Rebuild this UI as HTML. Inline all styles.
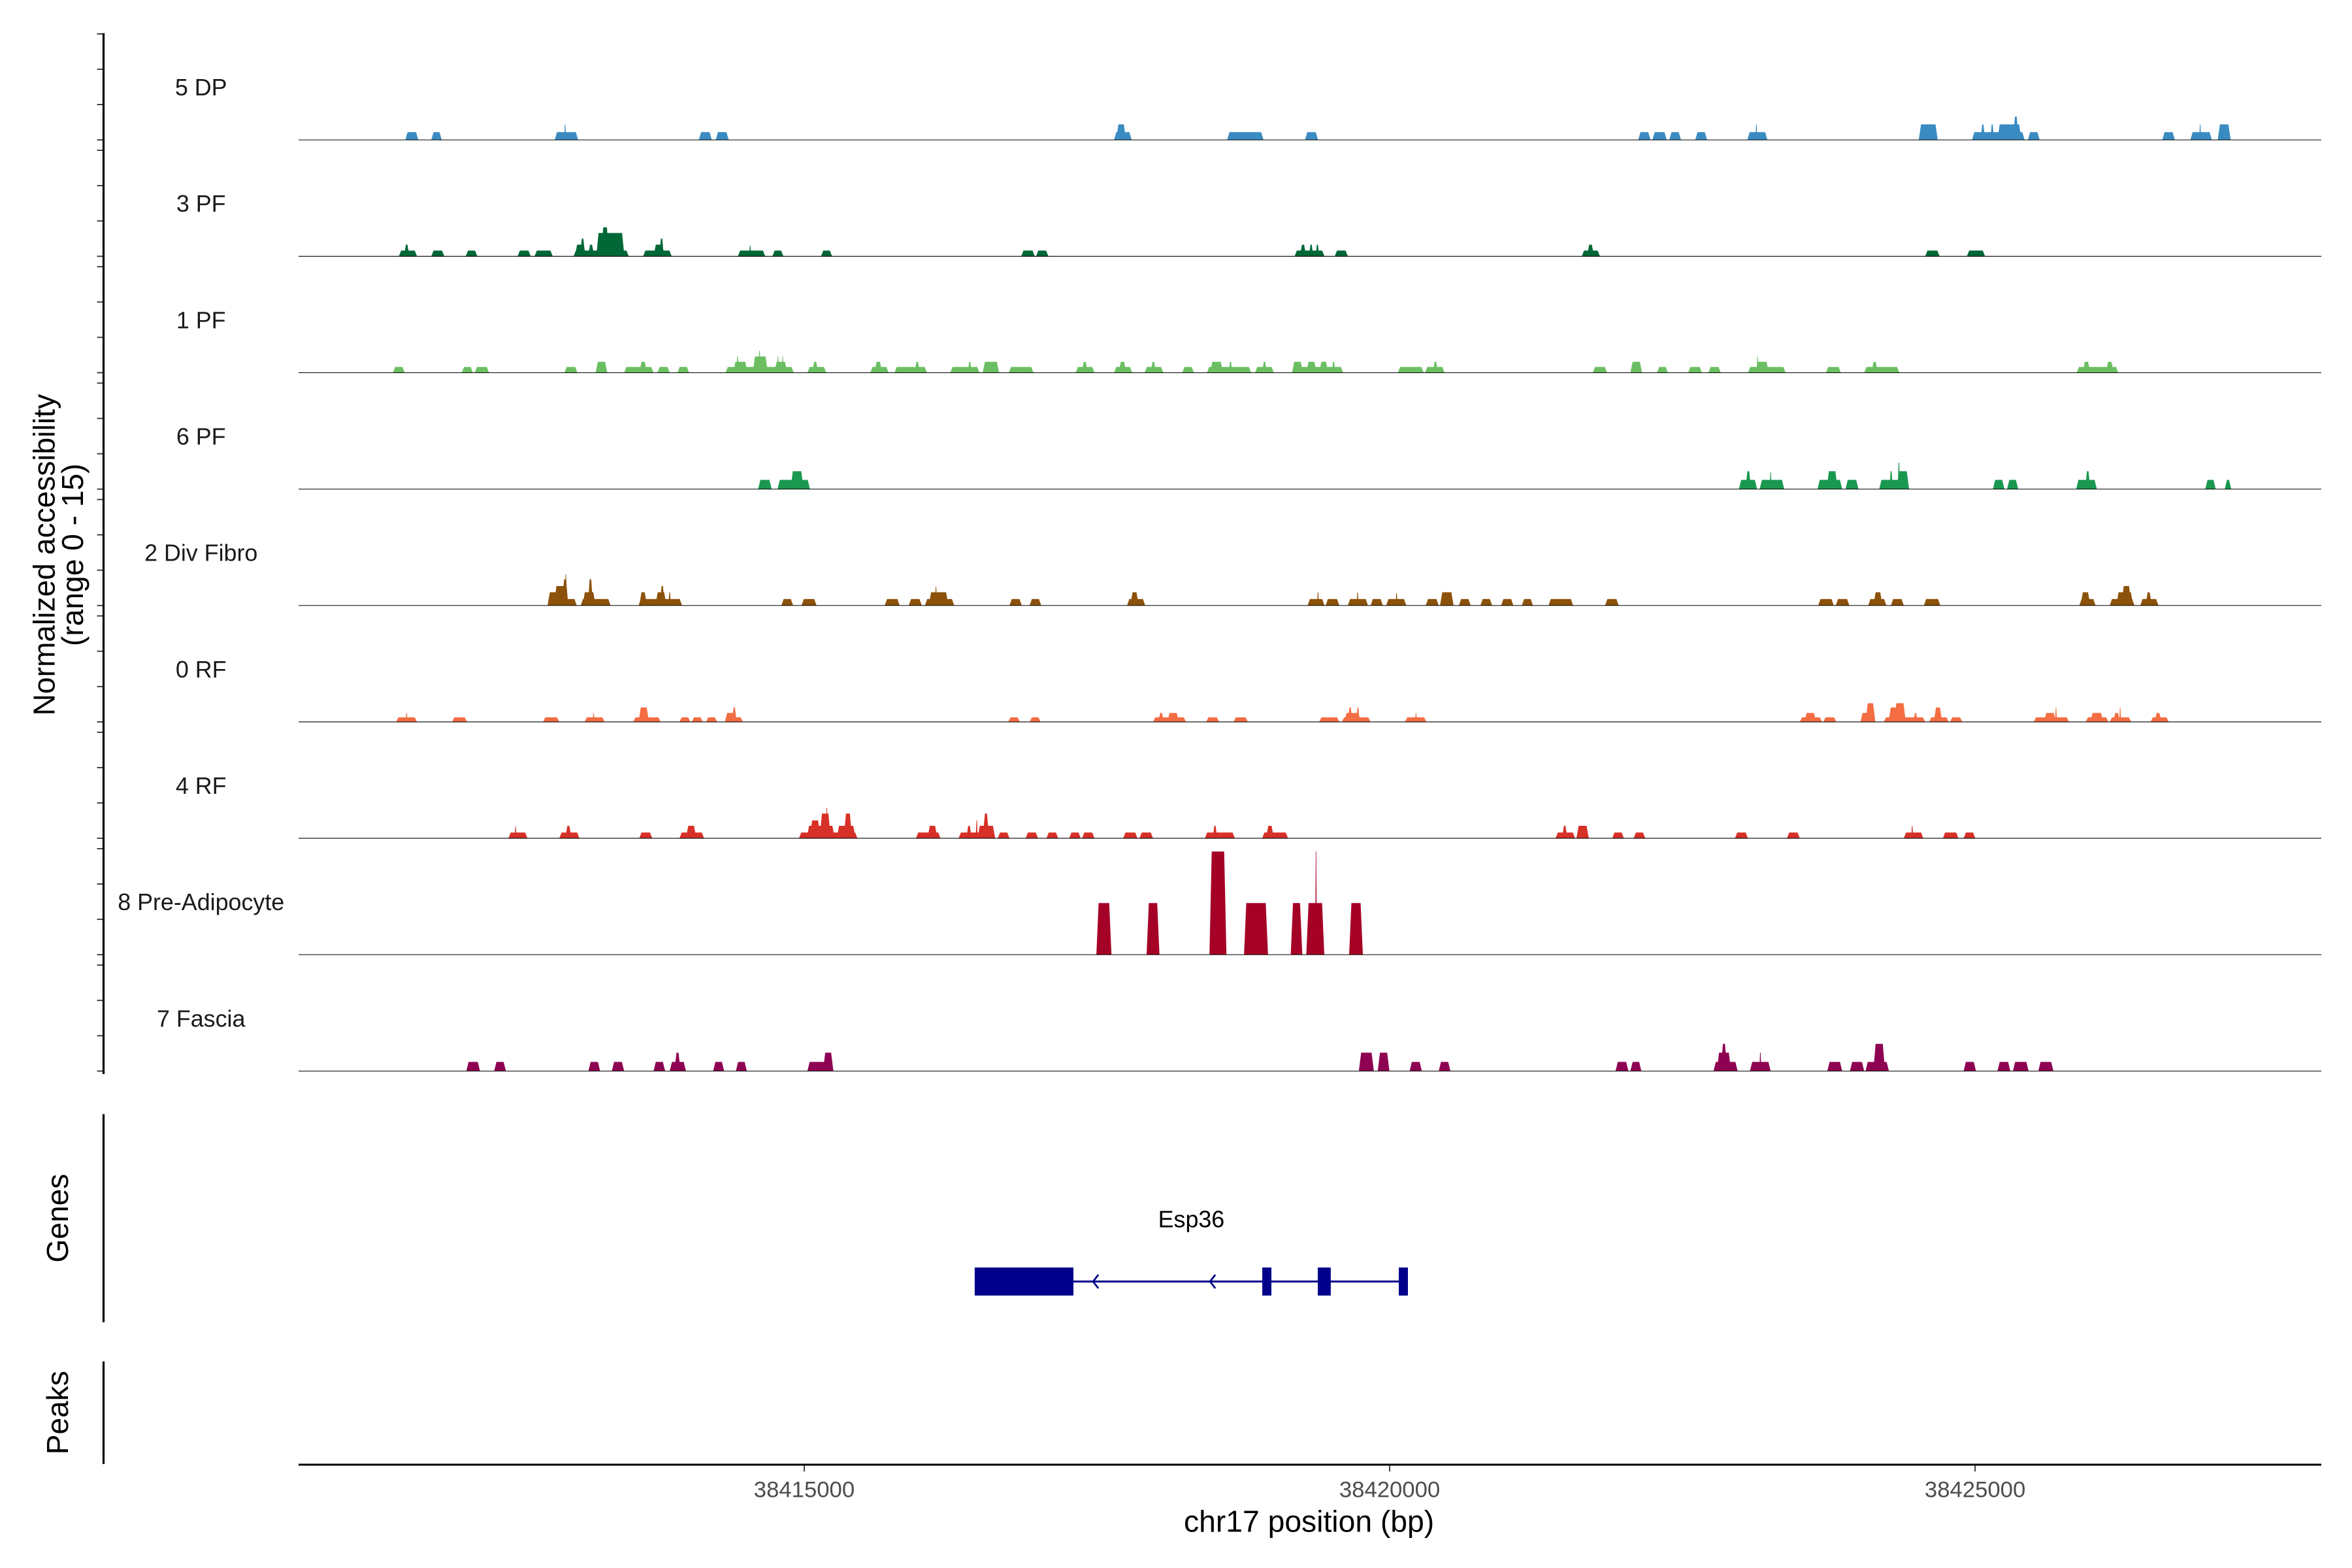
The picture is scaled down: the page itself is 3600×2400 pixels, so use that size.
<!DOCTYPE html>
<html><head><meta charset="utf-8"><style>
html,body{margin:0;padding:0;background:#fff;}
svg{display:block;}
text{font-family:"Liberation Sans",Arial,sans-serif;}
</style></head>
<body>
<svg id="chart" xmlns="http://www.w3.org/2000/svg" width="3600" height="2400" viewBox="0 0 1556 1040" preserveAspectRatio="none">
<g id="tracks"></g>
<g id="axes"></g>
<g id="genes"></g>
</svg>
<script>
const regionStart = 38410681;
const regionEnd = 38427957;
const yMax = 15;
const trackNames = ["5 DP","3 PF","1 PF","6 PF","2 Div Fibro","0 RF","4 RF","8 Pre-Adipocyte","7 Fascia"];
const trackColors = ["#3a8bc2","#006837","#6bbf62","#1a9850","#8c510a","#f46d43","#d73027","#a50026","#8e0152"];
const xTicks = [38415000,38420000,38425000];
const xTickLabels = ["38415000","38420000","38425000"];
const yTickValues = [0,5,10,15];

const peaksDP = [[38411593,38411704,1.1],[38411815,38411904,1.1],[38412869,38413069,1.1],[38412950,38412966,2.2],[38414100,38414211,1.1],[38414244,38414355,1.1],[38417646,38417796,1.1],[38417664,38417749,2.2],[38418612,38418922,1.1],[38419277,38419388,1.1],[38422123,38422228,1.1],[38422244,38422366,1.1],[38422388,38422488,1.1],[38422610,38422711,1.1],[38423055,38423226,1.1],[38423124,38423140,2.2],[38424519,38424681,2.2],[38424974,38425423,1.1],[38425048,38425084,2.2],[38425131,38425161,2.2],[38425191,38425396,2.2],[38425323,38425373,3.3],[38425451,38425551,1.1],[38426599,38426706,1.1],[38426839,38427022,1.1],[38426914,38426930,2.2],[38427072,38427183,2.2]];
const peaksPF3 = [[38411538,38411693,0.82],[38411582,38411627,1.65],[38411815,38411926,0.82],[38412109,38412208,0.82],[38412552,38412664,0.82],[38412697,38412852,0.82],[38413030,38413501,0.82],[38413041,38413135,1.65],[38413085,38413129,2.5],[38413152,38413207,1.65],[38413224,38413464,3.3],[38413264,38413334,4.1],[38413624,38413868,0.82],[38413713,38413807,1.65],[38413762,38413801,2.5],[38414433,38414667,0.82],[38414530,38414546,1.5],[38414728,38414822,0.82],[38415143,38415238,0.82],[38416853,38416969,0.82],[38416980,38417085,0.82],[38419188,38419443,0.82],[38419232,38419288,1.65],[38419311,38419347,1.65],[38419368,38419398,1.65],[38419531,38419643,0.82],[38421641,38421796,0.82],[38421685,38421746,1.65],[38424574,38424697,0.82],[38424930,38425085,0.82]];
const peaksPF1 = [[38411487,38411588,.82],[38412075,38412170,.82],[38412186,38412308,.82],[38412952,38413063,.82],[38413218,38413318,1.54],[38413462,38413713,.82],[38413591,38413657,1.54],[38413746,38413851,.82],[38413917,38414017,.82],[38414328,38414911,.82],[38414394,38414516,1.54],[38414421,38414441,2.3],[38414560,38414689,2.3],[38414608,38414628,3.1],[38414745,38414855,1.54],[38414768,38414784,2.3],[38414808,38414824,2.3],[38415027,38415188,.82],[38415066,38415121,1.54],[38415564,38415721,.82],[38415599,38415666,1.54],[38415771,38416048,.82],[38415943,38415987,1.54],[38416247,38416497,.82],[38416397,38416430,1.54],[38416524,38416664,1.54],[38416747,38416958,.82],[38417318,38417479,.82],[38417368,38417423,1.54],[38417646,38417801,.82],[38417685,38417751,1.54],[38417907,38418067,.82],[38417959,38418004,1.54],[38418228,38418328,.82],[38418439,38418817,.82],[38418466,38418577,1.54],[38418626,38418656,1.54],[38418850,38419011,.82],[38418911,38418951,1.54],[38419166,38419603,.82],[38419166,38419260,1.54],[38419288,38419376,1.54],[38419398,38419476,1.54],[38419506,38419536,1.54],[38420070,38420291,.82],[38420302,38420469,.82],[38420369,38420413,1.54],[38421735,38421857,.82],[38422056,38422156,1.54],[38422283,38422377,.82],[38422549,38422667,.82],[38422722,38422828,.82],[38423060,38423382,.82],[38423126,38423238,1.54],[38423134,38423150,2.3],[38423726,38423854,.82],[38424053,38424353,.82],[38424114,38424170,1.54],[38425868,38426223,.82],[38425918,38425984,1.54],[38426117,38426184,1.54]];
const peaksPF6 = [[38414606,38414722,1.3],[38414772,38415049,1.3],[38414883,38414994,2.53],[38422983,38423138,1.3],[38423038,38423088,2.53],[38423160,38423370,1.3],[38423246,38423262,2.4],[38423654,38423865,1.3],[38423732,38423826,2.53],[38423893,38424004,1.3],[38424181,38424436,1.3],[38424269,38424297,2.53],[38424336,38424436,2.53],[38424339,38424359,3.74],[38425152,38425251,1.3],[38425273,38425368,1.3],[38425863,38426040,1.3],[38425940,38425984,2.53],[38426966,38427055,1.3],[38427132,38427188,1.3]];
const peaksDivFibro = [[38412808,38413057,.92],[38412808,38412985,1.87],[38412864,38412985,2.75],[38412930,38412985,3.7],[38412956,38412972,4.4],[38413091,38413346,.92],[38413107,38413218,1.87],[38413152,38413196,3.7],[38413585,38413956,.92],[38413591,38413657,1.87],[38413729,38413823,1.87],[38413768,38413807,2.75],[38413841,38413861,1.87],[38414805,38414905,.92],[38414977,38415105,.92],[38415688,38415815,.92],[38415893,38416004,.92],[38416031,38416281,.92],[38416064,38416231,1.87],[38416117,38416133,2.64],[38416753,38416858,.92],[38416925,38417024,.92],[38417757,38417912,.92],[38417785,38417857,1.87],[38419299,38419443,.92],[38419380,38419396,1.87],[38419453,38419570,.92],[38419643,38419815,.92],[38419718,38419734,1.87],[38419837,38419942,.92],[38419970,38420142,.92],[38420051,38420067,1.76],[38420308,38420419,.92],[38420430,38420546,1.87],[38420591,38420692,.92],[38420775,38420875,.92],[38420952,38421057,.92],[38421129,38421224,.92],[38421357,38421567,.92],[38421840,38421956,.92],[38423660,38423793,.92],[38423810,38423926,.92],[38424087,38424242,.92],[38424131,38424209,1.87],[38424281,38424391,.92],[38424563,38424703,.92],[38425890,38426029,.92],[38425901,38425984,1.87],[38426150,38426361,.92],[38426206,38426350,1.87],[38426250,38426334,2.75],[38426411,38426566,.92],[38426455,38426510,1.87]];
const peaksRF0 = [[38411514,38411693,.64],[38411596,38411612,1.27],[38411992,38412120,.64],[38412769,38412908,.64],[38413124,38413296,.64],[38413193,38413209,1.27],[38413539,38413774,.64],[38413585,38413674,2.04],[38413934,38414028,.64],[38414039,38414134,.64],[38414161,38414256,.64],[38414322,38414477,.64],[38414322,38414422,1.27],[38414383,38414422,2.04],[38416742,38416842,.64],[38416925,38417019,.64],[38417979,38418261,.64],[38418023,38418073,1.27],[38418101,38418200,1.27],[38418433,38418543,.64],[38418667,38418789,.64],[38419398,38419570,.64],[38419592,38419837,.64],[38419613,38419753,1.27],[38419643,38419682,2.04],[38419715,38419743,2.04],[38420131,38420314,.64],[38420217,38420233,1.27],[38423503,38423693,.64],[38423542,38423643,1.27],[38423704,38423815,.64],[38424020,38424148,1.27],[38424064,38424148,2.64],[38424220,38424574,.64],[38424261,38424341,2.04],[38424308,38424408,2.64],[38424474,38424508,1.27],[38424607,38424775,.64],[38424647,38424719,2.04],[38424786,38424891,.64],[38425501,38425802,.64],[38425589,38425691,1.27],[38425683,38425699,2.04],[38425945,38426139,.64],[38425984,38426095,1.27],[38426150,38426333,.64],[38426178,38426239,1.27],[38426231,38426247,2.04],[38426499,38426654,.64],[38426532,38426593,1.27]];
const peaksRF4 = [[38412474,38412636,.82],[38412527,38412543,1.65],[38412908,38413080,.82],[38412958,38413013,1.76],[38413591,38413702,.82],[38413934,38414145,.82],[38413990,38414078,1.76],[38414955,38415454,.82],[38415022,38415260,1.76],[38415048,38415138,2.53],[38415132,38415226,3.5],[38415185,38415201,4.3],[38415278,38415438,1.76],[38415337,38415409,3.5],[38415954,38416164,.82],[38416053,38416137,1.76],[38416319,38416631,.82],[38416385,38416430,1.76],[38416480,38416631,1.76],[38416465,38416481,2.53],[38416524,38416580,3.5],[38416653,38416753,.82],[38416891,38416997,.82],[38417069,38417169,.82],[38417263,38417362,.82],[38417373,38417479,.82],[38417724,38417846,.82],[38417863,38417979,.82],[38418422,38418678,.82],[38418489,38418527,1.76],[38418911,38419132,.82],[38418944,38419011,1.76],[38421417,38421584,.82],[38421473,38421517,1.76],[38421595,38421701,1.76],[38421901,38422001,.82],[38422084,38422183,.82],[38422949,38423060,.82],[38423393,38423503,.82],[38424391,38424558,.82],[38424455,38424471,1.76],[38424725,38424858,.82],[38424902,38425002,.82]];
const peaksPreAdipo = [[38417495,38417624,7.3],[38417924,38418034,7.3],[38418461,38418606,14.6],[38418756,38418961,7.3],[38419155,38419254,7.3],[38419288,38419442,7.3],[38419364,38419378,14.6],[38419654,38419771,7.3]];
const peaksFascia = [[38412114,38412231,1.29],[38412352,38412452,1.29],[38413157,38413257,1.29],[38413357,38413462,1.29],[38413713,38413812,1.29],[38413851,38413990,1.29],[38413890,38413945,2.6],[38414222,38414316,1.29],[38414416,38414510,1.29],[38415027,38415249,1.29],[38415160,38415249,2.6],[38419737,38419865,2.6],[38419898,38419998,2.6],[38420170,38420275,1.29],[38420419,38420519,1.29],[38421929,38422039,1.29],[38422056,38422150,1.29],[38422766,38422972,1.29],[38422794,38422916,2.6],[38422827,38422883,3.85],[38423077,38423254,1.29],[38423158,38423174,2.6],[38423738,38423865,1.29],[38423931,38424053,1.29],[38424064,38424264,1.29],[38424131,38424231,3.85],[38424902,38425008,1.29],[38425191,38425301,1.29],[38425323,38425457,1.29],[38425540,38425669,1.29]];
const trackPeaks = [peaksDP,peaksPF3,peaksPF1,peaksPF6,peaksDivFibro,peaksRF0,peaksRF4,peaksPreAdipo,peaksFascia];

const geneName = "Esp36";
const geneSpan = [38416456, 38420156];
const geneExons = [[38416456,38417299],[38418912,38418990],[38419386,38419497],[38420078,38420156]];
const geneArrows = [38417467, 38418466];

const NS = "http://www.w3.org/2000/svg";
const PX_LEFT = 197.5, PX_RIGHT = 1535.7;
const TRACK0_BASE = 92.8, TRACK_PITCH = 77.2, TRACK_H = 70.3;
function xScale(bp){ return PX_LEFT + (bp - regionStart) / (regionEnd - regionStart) * (PX_RIGHT - PX_LEFT); }
function yScale(v, i){ return TRACK0_BASE + i*TRACK_PITCH - v / yMax * TRACK_H; }
function mk(tag, attrs, parent){ const e = document.createElementNS(NS, tag); for (const k in attrs) e.setAttribute(k, attrs[k]); parent.appendChild(e); return e; }

const gT = document.getElementById('tracks');
const gA = document.getElementById('axes');
const gG = document.getElementById('genes');

trackNames.forEach((name, i) => {
  const g = mk('g', {}, gT);
  
  
  const base = yScale(0, i);
  const lbl = mk('text', {x: 133, y: base - 29.5, 'font-size': 15.5, 'text-anchor': 'middle', fill: '#1a1a1a'}, g);
  lbl.textContent = name;
  
  
  trackPeaks[i].forEach(p => {
    const x0 = xScale(p[0]), x1 = xScale(p[1]), y = yScale(p[2], i);
    const inset = Math.min(1.5, (x1 - x0) * 0.35);
    const poly = mk('polygon', {points: `${x0},${base} ${x0+inset},${y} ${x1-inset},${y} ${x1},${base}`, fill: trackColors[i]}, g);
    
    
  });
  const bl = mk('line', {x1: PX_LEFT, x2: PX_RIGHT, y1: base, y2: base, stroke: '#000', 'stroke-width': 0.45}, g);
  
  
  yTickValues.forEach(v => {
    const ty = yScale(v, i);
    const t = mk('line', {x1: 64.2, x2: 68.5, y1: ty, y2: ty, stroke: '#333', 'stroke-width': 0.8}, gA);
    
    
  });
});

const yAx = mk('line', {x1: 68.5, x2: 68.5, y1: yScale(yMax, 0) - 0.5, y2: yScale(0, 8) + 2, stroke: '#000', 'stroke-width': 1.4}, gA);


const yTitle = mk('text', {transform: 'translate(36,368) rotate(-90)', 'font-size': 20, 'text-anchor': 'middle', fill: '#000'}, gA);


yTitle.textContent = 'Normalized accessibility';
const yTitle2 = mk('text', {transform: 'translate(55,368) rotate(-90)', 'font-size': 20, 'text-anchor': 'middle', fill: '#000'}, gA);


yTitle2.textContent = '(range 0 - 15)';

const gAx = mk('line', {x1: 68.5, x2: 68.5, y1: 739, y2: 877, stroke: '#000', 'stroke-width': 1.4}, gG);


const gLbl = mk('text', {transform: 'translate(45,808) rotate(-90)', 'font-size': 20, 'text-anchor': 'middle', fill: '#000'}, gG);


gLbl.textContent = 'Genes';
const GY = 850;
const gl = mk('line', {x1: xScale(geneSpan[0]), x2: xScale(geneSpan[1]), y1: GY, y2: GY, stroke: '#00008b', 'stroke-width': 1.3}, gG);


geneExons.forEach(ex => {
  const r = mk('rect', {x: xScale(ex[0]), y: GY - 9.3, width: xScale(ex[1]) - xScale(ex[0]), height: 18.6, fill: '#00008b'}, gG);
  
  
});
geneArrows.forEach(a => {
  const ax = xScale(a);
  const pl = mk('polyline', {points: `${ax+3.5},${GY-4.5} ${ax},${GY} ${ax+3.5},${GY+4.5}`, fill: 'none', stroke: '#00008b', 'stroke-width': 1.2}, gG);
  
  
});
const gn = mk('text', {x: (xScale(geneSpan[0]) + xScale(geneSpan[1])) / 2, y: 814, 'font-size': 15.5, 'text-anchor': 'middle', fill: '#000'}, gG);


gn.textContent = geneName;

const pAx = mk('line', {x1: 68.5, x2: 68.5, y1: 903, y2: 971, stroke: '#000', 'stroke-width': 1.4}, gA);


const pLbl = mk('text', {transform: 'translate(45,937) rotate(-90)', 'font-size': 20, 'text-anchor': 'middle', fill: '#000'}, gA);


pLbl.textContent = 'Peaks';

const xAx = mk('line', {x1: PX_LEFT, x2: PX_RIGHT, y1: 971.5, y2: 971.5, stroke: '#000', 'stroke-width': 1.3}, gA);


xTicks.forEach((t, k) => {
  const tx = xScale(t);
  const tk = mk('line', {x1: tx, x2: tx, y1: 972, y2: 976, stroke: '#333', 'stroke-width': 0.8}, gA);
  
  
  const tl = mk('text', {x: tx, y: 993, 'font-size': 15, 'text-anchor': 'middle', fill: '#4d4d4d'}, gA);
  
  
  tl.textContent = xTickLabels[k];
});
const xTitle = mk('text', {x: 866, y: 1016, 'font-size': 20, 'text-anchor': 'middle', fill: '#000'}, gA);


xTitle.textContent = 'chr17 position (bp)';
</script>
</body></html>
